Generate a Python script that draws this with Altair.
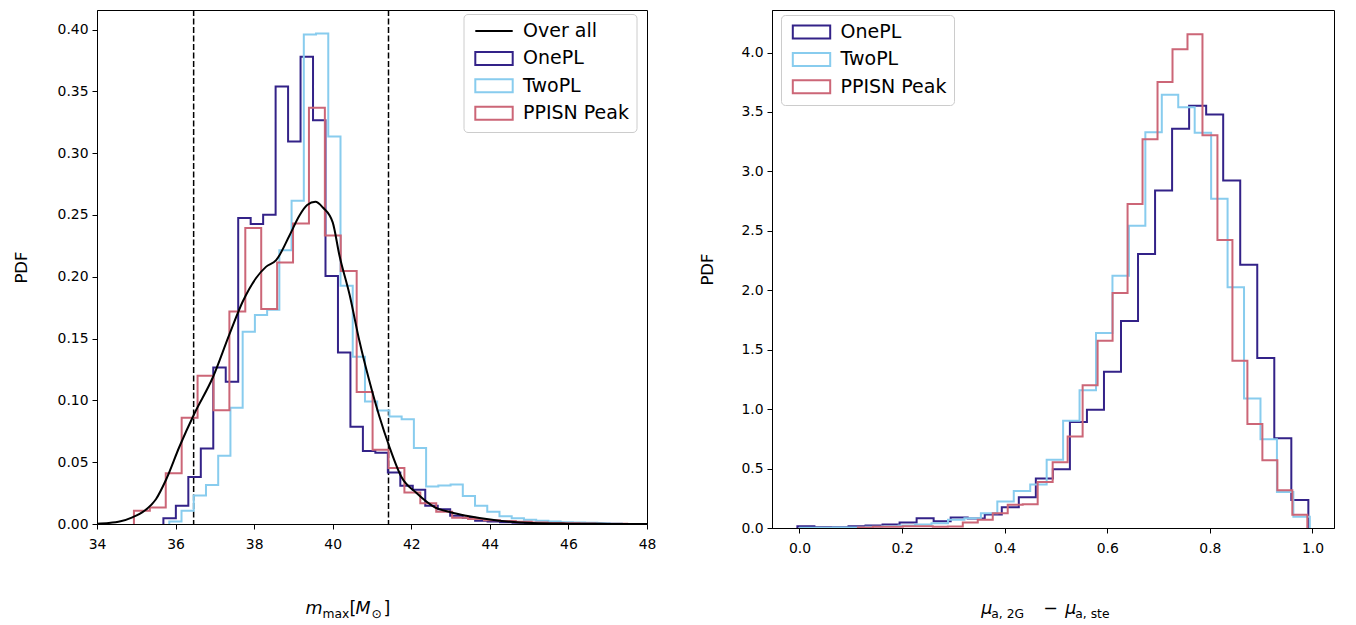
import altair as alt
import pandas as pd

# ---------------- data: left panel (m_max) ----------------
onepl_m_start, onepl_m_width = 35.69, 0.3174
onepl_m = [0.0046, 0.0147, 0.038, 0.061, 0.1267, 0.115, 0.2475, 0.2427, 0.2502, 0.354,
           0.3094, 0.378, 0.3267, 0.2006, 0.1387, 0.0787, 0.059, 0.0577, 0.0417, 0.031,
           0.0278, 0.0147, 0.012, 0.0067, 0.005, 0.0027, 0.002, 0.0015, 0.001, 0.0007, 0.0004]
twopl_m_start, twopl_m_width = 35.84, 0.3113
twopl_m = [0.002, 0.0107, 0.023, 0.0315, 0.0553, 0.094, 0.1555, 0.169, 0.1734, 0.2214,
           0.2614, 0.396, 0.3968, 0.3134, 0.1928, 0.1352, 0.099, 0.0918, 0.087, 0.0847,
           0.0614, 0.0303, 0.0312, 0.032, 0.0227, 0.0147, 0.0099, 0.0062, 0.0046, 0.0035,
           0.0027, 0.002, 0.0015, 0.0012, 0.001, 0.0008, 0.0005]
ppisn_m_start, ppisn_m_width = 34.94, 0.405
ppisn_m = [0.0107, 0.0134, 0.041, 0.086, 0.120, 0.092, 0.172, 0.2395, 0.174, 0.2115,
           0.243, 0.3368, 0.2334, 0.2046, 0.1067, 0.060, 0.0454, 0.0254, 0.0168, 0.0100,
           0.0050, 0.0040, 0.0030, 0.0024, 0.0018, 0.0012, 0.0009, 0.0006, 0.0004, 0.0003, 0.0002]
kde_x = [34.0, 34.3, 34.6, 34.9, 35.2, 35.5, 35.76, 36.1, 36.48, 36.95, 37.37, 37.71, 38.05,
         38.3, 38.56, 38.9, 39.15, 39.35, 39.56, 39.75, 40.0, 40.17, 40.43, 40.68, 40.93,
         41.19, 41.44, 41.75, 42.12, 42.6, 43.0, 43.4, 44.24, 45.09, 46.0, 47.0, 48.0]
kde_y = [0.0003, 0.0008, 0.0022, 0.0054, 0.0105, 0.020, 0.036, 0.0627, 0.0894, 0.1187, 0.1534,
         0.180, 0.199, 0.208, 0.2134, 0.2334, 0.2494, 0.258, 0.2606, 0.256, 0.244, 0.2174,
         0.1854, 0.148, 0.116, 0.0867, 0.0627, 0.038, 0.0254, 0.0135, 0.0095, 0.0067, 0.0027,
         0.0008, 0.0003, 0.0001, 0.0]
interval_lines = [36.46, 41.42]

# ---------------- data: right panel (mu difference) ----------------
onepl_mu_start, onepl_mu_width = -0.004, 0.0332
onepl_mu = [0.014, 0.006, 0.006, 0.014, 0.02, 0.03, 0.047, 0.081, 0.056, 0.089, 0.08, 0.114,
            0.175, 0.258, 0.417, 0.494, 0.892, 0.994, 1.314, 1.742, 2.306, 2.839, 3.358,
            3.553, 3.478, 2.923, 2.214, 1.43, 0.756, 0.236]
twopl_mu_start, twopl_mu_width = 0.001, 0.03206
twopl_mu = [0.002, 0.003, 0.005, 0.005, 0.01, 0.015, 0.02, 0.03, 0.04, 0.07, 0.081, 0.125,
            0.2225, 0.311, 0.367, 0.575, 0.903, 1.158, 1.64, 2.122, 2.542, 3.33, 3.645, 3.54,
            3.325, 2.77, 2.025, 1.089, 0.7475, 0.303, 0.095]
ppisn_mu_start, ppisn_mu_width = 0.114, 0.0292
ppisn_mu = [0.005, 0.01, 0.01, 0.015, 0.015, 0.01, 0.012, 0.047, 0.07, 0.125, 0.195, 0.2,
            0.387, 0.553, 0.77, 1.2, 1.575, 1.978, 2.725, 3.27, 3.753, 4.028, 4.153, 3.305,
            2.423, 1.408, 0.875, 0.57, 0.317, 0.111]

series_left = ["Over all", "OnePL", "TwoPL", "PPISN Peak"]
series_right = ["OnePL", "TwoPL", "PPISN Peak"]
palette = {"Over all": "#000000", "OnePL": "#332288", "TwoPL": "#88CCEE", "PPISN Peak": "#CC6677"}
LINE_SYM = "M-3.74,0L3.74,0"
RECT_SYM = "M-3.74,-1.3L3.74,-1.3L3.74,1.3L-3.74,1.3Z"

FONT = "DejaVu Sans"
W_L, H_L = 550, 514
W_R, H_R = 562, 518


def step_frame(start, width, heights, name):
    xs, ys = [start], [0.0]
    for k, h in enumerate(heights):
        xs.append(start + k * width)
        ys.append(h)
    end = start + len(heights) * width
    xs += [end, end]
    ys += [heights[-1], 0.0]
    return pd.DataFrame({"x": xs, "y": ys, "series": name, "i": range(len(xs))})


def hist_layers(frames, xenc, yenc):
    layers = []
    for df in frames:
        name = df["series"].iloc[0]
        layers.append(
            alt.Chart(df).mark_line(interpolate="step-after", strokeWidth=2, clip=True,
                                    strokeJoin="miter", color=palette[name])
            .encode(x=xenc, y=yenc, order="i:Q")
        )
    return layers


def legend_layer(names, sym, lx, ly):
    leg = alt.Legend(title=None, orient="none", legendX=lx, legendY=ly, padding=7.5,
                     rowPadding=6.4, labelOffset=19.5, symbolOffset=13.5, labelFontSize=19,
                     labelFont=FONT, labelColor="black", symbolSize=100, symbolStrokeWidth=2,
                     symbolOpacity=1, fillColor="rgba(255,255,255,0.8)",
                     strokeColor="#cccccc", cornerRadius=4, labelLimit=400)
    cscale = alt.Scale(domain=names, range=[palette[s] for s in names])
    sscale = alt.Scale(domain=names, range=sym)
    df = pd.DataFrame({"series": names})
    return (alt.Chart(df)
            .mark_point(filled=False, strokeWidth=2, size=0, opacity=0)
            .encode(x=alt.value(0), y=alt.value(0),
                    color=alt.Color("series:N", scale=cscale, legend=leg),
                    shape=alt.Shape("series:N", scale=sscale, legend=leg)))


def text_piece(txt, x, y, size, italic):
    return alt.Chart(pd.DataFrame({"t": [txt]})).mark_text(
        align="left", baseline="alphabetic", font=FONT, fontSize=size,
        fontStyle="italic" if italic else "normal", color="black"
    ).encode(x=alt.value(x), y=alt.value(y), text="t:N")


# ---------------- left panel ----------------
xl = alt.X("x:Q", scale=alt.Scale(domain=[34, 48], nice=False, zero=False),
           axis=alt.Axis(values=list(range(34, 49, 2)), format="d", title=None))
yl = alt.Y("y:Q", scale=alt.Scale(domain=[0, 0.4158], nice=False),
           axis=alt.Axis(values=[i * 0.05 for i in range(9)], format=".2f", title="PDF",
                         titlePadding=28))

left_frames = [step_frame(onepl_m_start, onepl_m_width, onepl_m, "OnePL"),
               step_frame(twopl_m_start, twopl_m_width, twopl_m, "TwoPL"),
               step_frame(ppisn_m_start, ppisn_m_width, ppisn_m, "PPISN Peak")]
kde_df = pd.DataFrame({"x": kde_x, "y": kde_y, "series": "Over all", "i": range(len(kde_x))})

kde_layer = alt.Chart(kde_df).mark_line(interpolate="monotone", strokeWidth=2, clip=True,
                                        color=palette["Over all"]).encode(
    x=xl, y=yl, order="i:Q")
rule_layer = alt.Chart(pd.DataFrame({"x": interval_lines})).mark_rule(
    color="black", strokeWidth=1.5, strokeDash=[6, 2.5]).encode(x=alt.X("x:Q"))

F_MAIN, F_SUB = 17.5, 12.3
ox_l = 97.5
ty = 612 - 8
left_title = [
    text_piece("m", 306 - ox_l, ty, F_MAIN, True),
    text_piece("max", 323 - ox_l, ty + 4, F_SUB, False),
    text_piece("[", 350 - ox_l, ty, F_MAIN, False),
    text_piece("M", 356 - ox_l, ty, F_MAIN, True),
    text_piece("\u2299", 372 - ox_l, ty + 4, F_SUB, False),
    text_piece("]", 384 - ox_l, ty, F_MAIN, False),
]

left = alt.layer(
    legend_layer(series_left, [LINE_SYM, RECT_SYM, RECT_SYM, RECT_SYM], 464 - ox_l, 4),
    rule_layer,
    *hist_layers(left_frames, xl, yl),
    kde_layer,
    *left_title,
).properties(width=W_L, height=H_L)

# ---------------- right panel ----------------
xr = alt.X("x:Q", scale=alt.Scale(domain=[-0.0535, 1.042], nice=False, zero=False),
           axis=alt.Axis(values=[0, 0.2, 0.4, 0.6, 0.8, 1.0], format=".1f", title=None))
yr = alt.Y("y:Q", scale=alt.Scale(domain=[0, 4.358], nice=False),
           axis=alt.Axis(values=[i * 0.5 for i in range(9)], format=".1f", title="PDF",
                         titlePadding=25))
right_frames = [step_frame(onepl_mu_start, onepl_mu_width, onepl_mu, "OnePL"),
                step_frame(twopl_mu_start, twopl_mu_width, twopl_mu, "TwoPL"),
                step_frame(ppisn_mu_start, ppisn_mu_width, ppisn_mu, "PPISN Peak")]

ox_r = 772.7
right_title = [
    text_piece("\u03bc", 982 - ox_r, ty, F_MAIN, True),
    text_piece("a, 2G", 992 - ox_r, ty + 4, F_SUB, False),
    text_piece("\u2212", 1044 - ox_r, ty, F_MAIN, False),
    text_piece("\u03bc", 1066 - ox_r, ty, F_MAIN, True),
    text_piece("a, ste", 1076 - ox_r, ty + 4, F_SUB, False),
]

right = alt.layer(
    legend_layer(series_right, [RECT_SYM, RECT_SYM, RECT_SYM], 9, 5),
    *hist_layers(right_frames, xr, yr),
    *right_title,
).properties(width=W_R, height=H_R)

chart = (
    alt.hconcat(left, right, spacing=125, bounds="flush")
    .resolve_scale(x="independent", y="independent", color="independent", shape="independent")
    .resolve_legend(color="independent", shape="independent")
    .properties(padding={"left": 4, "top": 0, "right": 0, "bottom": 0})
    .configure_view(stroke="black", strokeWidth=1)
    .configure_axis(labelFont=FONT, labelFontSize=13.9, labelColor="black", tickColor="black",
                    tickSize=5, tickWidth=1, domainColor="black", domainWidth=1, grid=False,
                    labelPadding=4, labelFlush=False, titleFont=FONT, titleFontSize=16.5,
                    titleFontWeight="normal", titleColor="black")
    .configure_axisX(labelPadding=8)
)

chart.save("out.html", embed_options={"renderer": "svg", "actions": False})
